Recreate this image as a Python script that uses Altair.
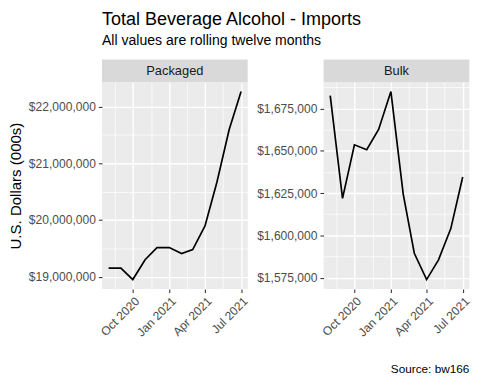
import altair as alt
import pandas as pd

# ---------------- data ----------------
months = ["2020-08-01", "2020-09-01", "2020-10-01", "2020-11-01", "2020-12-01",
          "2021-01-01", "2021-02-01", "2021-03-01", "2021-04-01", "2021-05-01",
          "2021-06-01", "2021-07-01"]
packaged = [19151000, 19151000, 18948000, 19297000, 19512000, 19512000,
            19407000, 19477000, 19895000, 20663000, 21593000, 22262000]
bulk = [1682780, 1621890, 1653600, 1650680, 1662740, 1685120,
        1624420, 1589400, 1573830, 1585510, 1603990, 1634530]
panel_names = ["Packaged", "Bulk"]
y_steps = [1000000, 25000]
title_text = "Total Beverage Alcohol - Imports"
subtitle_text = "All values are rolling twelve months"
y_title = "U.S. Dollars (000s)"
caption = "Source: bw166"

# ---------------- style ----------------
FONT = "Liberation Sans"
W, H = 147.3, 209
STRIP = 23

x_values = [
    alt.DateTime(year=2020, month=8, date=16),
    alt.DateTime(year=2020, month=10, date=1),
    alt.DateTime(year=2020, month=11, date=16),
    alt.DateTime(year=2021, month=1, date=1),
    alt.DateTime(year=2021, month=2, date=15),
    alt.DateTime(year=2021, month=4, date=1),
    alt.DateTime(year=2021, month=5, date=16, hours=12),
    alt.DateTime(year=2021, month=7, date=1),
]
x_domain = [alt.DateTime(year=2020, month=7, date=15, hours=7, minutes=12),
            alt.DateTime(year=2021, month=7, date=17, hours=16, minutes=48)]

x_major = "date(datum.value) === 1"


def cond(test, a, b):
    return {"condition": {"test": test, "value": a}, "value": b}


def make_panel(i, values):
    name = panel_names[i]
    step = y_steps[i]
    df = pd.DataFrame({"date": [m + "T00:00:00" for m in months], "value": values})
    lo, hi = min(values), max(values)
    pad = 0.05 * (hi - lo)
    dom = [lo - pad, hi + pad]
    half = step // 2
    k = -(-int(dom[0]) // half)
    yvals = []
    while k * half <= dom[1]:
        yvals.append(k * half)
        k += 1
    y_major = f"datum.value % {step} === 0"

    yaxis_kw = dict(
        values=yvals, format="$,.0f",
        labelExpr=f"{y_major} ? datum.label : ''",
        gridWidth=cond(y_major, 1.4, 0.7),
        tickOpacity=cond(y_major, 1, 0),
        minExtent=70, maxExtent=70, labelOverlap=False,
    )
    if i == 0:
        yaxis_kw.update(title=y_title, titlePadding=9.2, titleFontSize=15.2,
                        titleFont=FONT, titleFontWeight="normal", titleColor="black")
        yaxis = alt.Axis(**yaxis_kw)
    else:
        yaxis = alt.Axis(title=None, **yaxis_kw)

    xaxis = alt.Axis(
        title=None, values=x_values, format="%b %Y",
        labelExpr=f"{x_major} ? datum.label : ''",
        labelAngle=-45, labelAlign="right", labelBaseline="top",
        labelOverlap=False, labelPadding=2,
        gridWidth=cond(x_major, 1.4, 0.7),
        tickOpacity=cond(x_major, 1, 0),
    )

    line = alt.Chart(df).mark_line(color="black", strokeWidth=1.7).encode(
        x=alt.X("date:T", scale=alt.Scale(domain=x_domain), axis=xaxis),
        y=alt.Y("value:Q", scale=alt.Scale(domain=dom, nice=False, zero=False), axis=yaxis),
    )
    strip_df = pd.DataFrame({"panel": [name]})
    strip_bg = alt.Chart(strip_df).mark_rect(color="#D9D9D9").encode(
        x=alt.value(0), x2=alt.value(W), y=alt.value(-STRIP), y2=alt.value(0))
    strip_tx = alt.Chart(strip_df).mark_text(
        font=FONT, fontSize=13, color="#1A1A1A", baseline="middle", align="center"
    ).encode(x=alt.value(W / 2), y=alt.value(-STRIP / 2), text="panel:N")
    layers = [line, strip_bg, strip_tx]
    if i == 1:
        cap_df = pd.DataFrame({"caption": [caption]})
        cap = alt.Chart(cap_df).mark_text(
            font=FONT, fontSize=11.9, color="black", align="right", baseline="alphabetic"
        ).encode(x=alt.value(W), y=alt.value(H + 85), text="caption:N")
        layers.append(cap)
    ch = alt.layer(*layers).properties(width=W, height=H)
    if i == 0:
        ch = ch.properties(title=alt.TitleParams(
            text=title_text, subtitle=subtitle_text, anchor="start", frame="group",
            font=FONT, fontSize=18.2, fontWeight="normal", color="black",
            subtitleFont=FONT, subtitleFontSize=14.2, subtitleColor="black",
            subtitlePadding=5, offset=10))
    return ch


p1 = make_panel(0, packaged)
p2 = make_panel(1, bulk)

chart = alt.hconcat(p1, p2, spacing=76, bounds="flush").properties(
    padding={"left": 0, "top": 0, "right": 0, "bottom": 0}
).configure_view(fill="#EBEBEB", strokeWidth=0).configure_axis(
    labelFont=FONT, labelFontSize=12.2, labelColor="#4D4D4D",
    tickColor="#333333", tickSize=3.7, tickWidth=1.07, labelPadding=3,
    domain=False, gridColor="white",
)

chart.save("out.html", embed_options={"renderer": "svg", "actions": False})
